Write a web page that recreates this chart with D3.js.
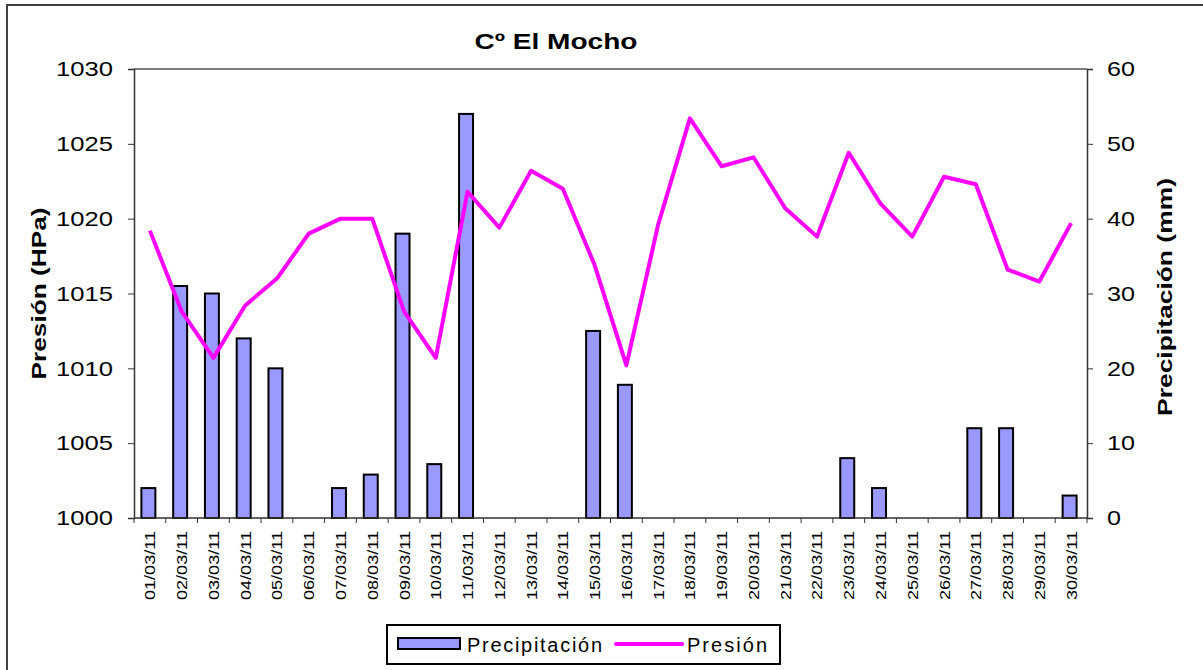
<!DOCTYPE html>
<html>
<head>
<meta charset="utf-8">
<script src="https://cdn.jsdelivr.net/npm/d3@7"></script>
<style>
  body { margin: 0; background: #fff; }
  text { font-family: Arial, "Liberation Sans", sans-serif; fill: #000; }
</style>
</head>
<body>
<svg id="chart" width="1203" height="670"></svg>
<script>
// data
const dates = ["01/03/11","02/03/11","03/03/11","04/03/11","05/03/11","06/03/11","07/03/11","08/03/11","09/03/11","10/03/11",
  "11/03/11","12/03/11","13/03/11","14/03/11","15/03/11","16/03/11","17/03/11","18/03/11","19/03/11","20/03/11",
  "21/03/11","22/03/11","23/03/11","24/03/11","25/03/11","26/03/11","27/03/11","28/03/11","29/03/11","30/03/11"];
const precipitacion = [4, 31, 30, 24, 20, 0, 4, 5.8, 38, 7.2, 54, 0, 0, 0, 25, 17.8, 0, 0, 0, 0,
  0, 0, 8, 4, 0, 0, 12, 12, 0, 3];
const presion = [1019.2, 1013.8, 1010.7, 1014.2, 1016.0, 1019.0, 1020.0, 1020.0, 1013.8, 1010.7,
  1021.8, 1019.4, 1023.2, 1022.0, 1016.9, 1010.2, 1019.6, 1026.7, 1023.5, 1024.1,
  1020.7, 1018.8, 1024.4, 1021.0, 1018.8, 1022.8, 1022.3, 1016.6, 1015.8, 1019.7];
const presTicks = [1000, 1005, 1010, 1015, 1020, 1025, 1030];
const precTicks = [0, 10, 20, 30, 40, 50, 60];

const svg = d3.select("#chart");
const plot = { left: 134, right: 1087, top: 69, bottom: 518 };

// outer frame (only top and left visible in the picture)
svg.append("path")
  .attr("d", "M7,700 L7,5 L1210,5")
  .attr("fill", "none")
  .attr("stroke", "#404040")
  .attr("stroke-width", 2);

const x = d3.scaleBand().domain(dates).range([plot.left, plot.right]).padding(0);
const yP = d3.scaleLinear().domain([1000, 1030]).range([plot.bottom, plot.top]);
const yR = d3.scaleLinear().domain([0, 60]).range([plot.bottom, plot.top]);

// top border of plot area
svg.append("line")
  .attr("x1", plot.left).attr("x2", plot.right)
  .attr("y1", plot.top).attr("y2", plot.top)
  .attr("stroke", "#808080").attr("stroke-width", 2);

// bars
const bw = x.bandwidth() * 0.44;
svg.append("g").selectAll("rect")
  .data(precipitacion.map((v, i) => ({ d: dates[i], v: v })).filter(o => o.v > 0))
  .join("rect")
  .attr("x", d => x(d.d) + x.bandwidth() / 2 - bw / 2 - 1.5)
  .attr("y", d => yR(d.v))
  .attr("width", bw)
  .attr("height", d => yR(0) - yR(d.v))
  .attr("fill", "#9999FF")
  .attr("stroke", "#000")
  .attr("stroke-width", 2);

// pressure line
const line = d3.line()
  .x((d, i) => x(dates[i]) + x.bandwidth() / 2)
  .y(d => yP(d));
svg.append("path")
  .datum(presion)
  .attr("d", line)
  .attr("fill", "none")
  .attr("stroke", "#FF00FF")
  .attr("stroke-width", 4)
  .attr("stroke-linejoin", "round");

// left axis
const axL = svg.append("g")
  .attr("transform", `translate(${plot.left},0)`)
  .call(d3.axisLeft(yP).tickValues(presTicks).tickSize(6).tickPadding(15).tickFormat(d3.format("d")));
axL.select(".domain").attr("stroke", "#333").attr("stroke-width", 1.5);
axL.selectAll(".tick line").attr("stroke", "#333");
axL.selectAll("text").attr("font-size", 21).attr("textLength", 57).attr("lengthAdjust", "spacingAndGlyphs")
  .attr("font-family", "Arial, 'Liberation Sans', sans-serif").attr("fill", "#000");

// right axis
const axR = svg.append("g")
  .attr("transform", `translate(${plot.right},0)`)
  .call(d3.axisRight(yR).tickValues(precTicks).tickSize(6).tickPadding(14));
axR.select(".domain").attr("stroke", "#333").attr("stroke-width", 1.5);
axR.selectAll(".tick line").attr("stroke", "#333");
axR.selectAll("text").attr("font-size", 21)
  .attr("textLength", d => d === 0 ? 14 : 28).attr("lengthAdjust", "spacingAndGlyphs")
  .attr("font-family", "Arial, 'Liberation Sans', sans-serif").attr("fill", "#000");

// bottom axis: ticks at band edges, rotated labels
const axB = svg.append("g").attr("transform", `translate(0,${plot.bottom})`);
axB.append("line")
  .attr("x1", plot.left).attr("x2", plot.right)
  .attr("stroke", "#333").attr("stroke-width", 1.5);
axB.selectAll("line.tk")
  .data(dates.concat(["end"]))
  .join("line").attr("class", "tk")
  .attr("x1", (d, i) => plot.left + i * x.bandwidth())
  .attr("x2", (d, i) => plot.left + i * x.bandwidth())
  .attr("y1", 0).attr("y2", 5)
  .attr("stroke", "#333");
axB.selectAll("text")
  .data(dates)
  .join("text")
  .attr("transform", d => `translate(${x(d) + x.bandwidth() / 2 + 5.5},13) rotate(-90)`)
  .attr("text-anchor", "end")
  .attr("font-size", 15)
  .attr("textLength", 69)
  .attr("lengthAdjust", "spacingAndGlyphs")
  .text(d => d);

// title
svg.append("text")
  .attr("x", 556).attr("y", 49)
  .attr("text-anchor", "middle")
  .attr("font-size", 22).attr("font-weight", "bold")
  .attr("textLength", 163).attr("lengthAdjust", "spacingAndGlyphs")
  .text("Cº El Mocho");

// axis titles
svg.append("text")
  .attr("transform", `translate(46,${(plot.top + plot.bottom) / 2}) rotate(-90)`)
  .attr("text-anchor", "middle")
  .attr("font-size", 21).attr("font-weight", "bold")
  .attr("textLength", 172).attr("lengthAdjust", "spacingAndGlyphs")
  .text("Presión (HPa)");
svg.append("text")
  .attr("transform", `translate(1172,297) rotate(-90)`)
  .attr("text-anchor", "middle")
  .attr("font-size", 21).attr("font-weight", "bold")
  .attr("textLength", 238).attr("lengthAdjust", "spacingAndGlyphs")
  .text("Precipitación (mm)");

// legend
const lg = svg.append("g");
lg.append("rect")
  .attr("x", 387).attr("y", 625).attr("width", 393).attr("height", 39)
  .attr("fill", "#fff").attr("stroke", "#000").attr("stroke-width", 2);
lg.append("rect")
  .attr("x", 398).attr("y", 638).attr("width", 62).attr("height", 11)
  .attr("fill", "#9999FF").attr("stroke", "#000").attr("stroke-width", 2);
lg.append("text")
  .attr("x", 467).attr("y", 652)
  .attr("font-size", 20)
  .attr("textLength", 135).attr("lengthAdjust", "spacing")
  .text("Precipitación");
lg.append("line")
  .attr("x1", 616).attr("x2", 682).attr("y1", 644).attr("y2", 644)
  .attr("stroke", "#FF00FF").attr("stroke-width", 4).attr("stroke-linecap", "round");
lg.append("text")
  .attr("x", 687).attr("y", 652)
  .attr("font-size", 20)
  .attr("textLength", 80).attr("lengthAdjust", "spacing")
  .text("Presión");
</script>
</body>
</html>
